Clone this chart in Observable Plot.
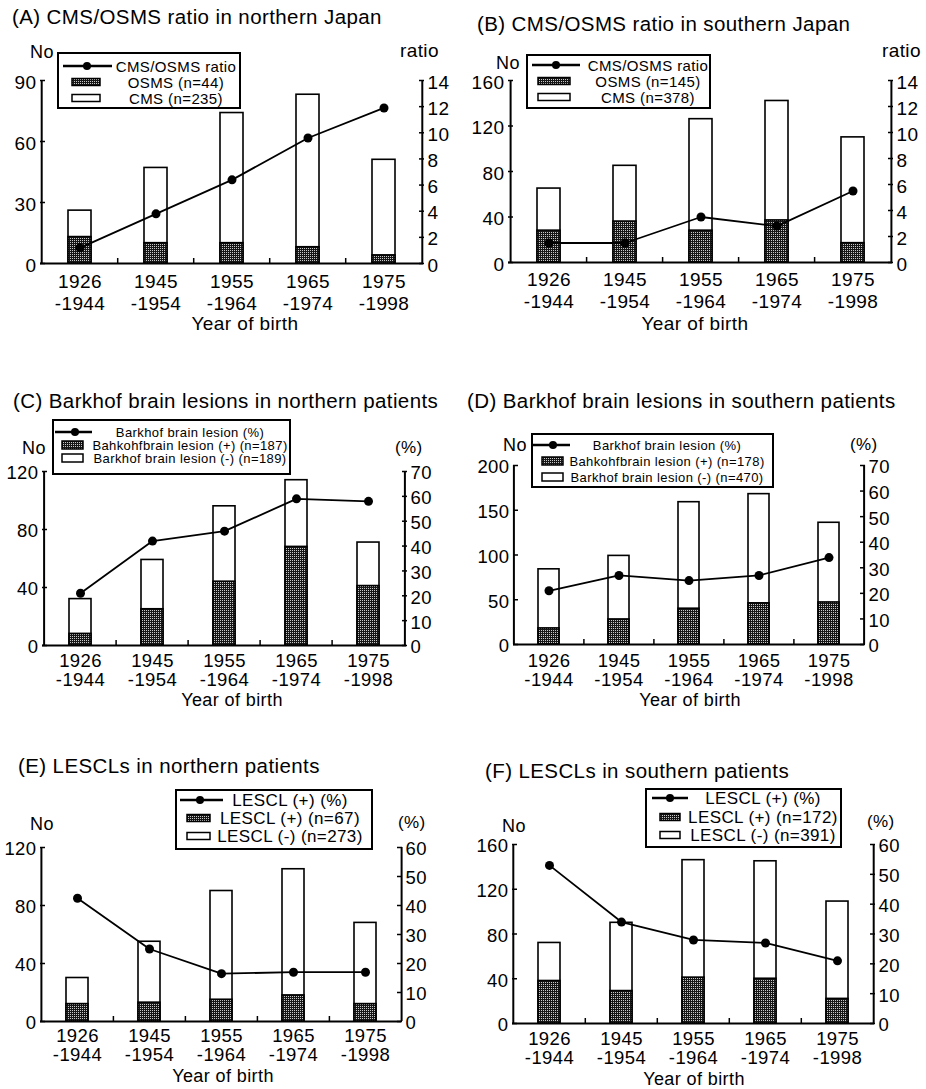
<!DOCTYPE html>
<html><head><meta charset="utf-8">
<script src="https://cdn.jsdelivr.net/npm/d3@7"></script>
<script src="https://cdn.jsdelivr.net/npm/@observablehq/plot@0.6"></script>
<style>
body{margin:0;background:#fff;}
#root{position:relative;width:926px;height:1089px;overflow:hidden;font-family:"Liberation Sans",Arial,sans-serif;color:#000;background:#fff;}
.t{position:absolute;white-space:nowrap;letter-spacing:0.4px;}
</style></head><body>
<svg width="0" height="0" style="position:absolute">
  <defs>
    <pattern id="dither" width="2" height="2" patternUnits="userSpaceOnUse">
      <rect width="2" height="2" fill="#161616"/>
      <rect x="0" y="0" width="1" height="1" fill="#c8c8c8"/>
    </pattern>
  </defs>
</svg>
<div id="root"></div>
<script>
const FONT = '"Liberation Sans", Arial, sans-serif';

// ---------- data ----------
const cohorts = ["1926\n-1944", "1945\n-1954", "1955\n-1964", "1965\n-1974", "1975\n-1998"];

// (A) northern Japan
const osmsNorth = [13, 10, 10, 8, 4];
const cmsNorth = [13, 37, 64, 75, 47];
const ratioNorth = [1.2, 3.8, 6.4, 9.6, 11.9];
// (B) southern Japan
const osmsSouth = [28, 36, 28, 37, 17];
const cmsSouth = [37, 49, 98, 105, 93];
const ratioSouth = [1.5, 1.5, 3.5, 2.8, 5.5];
// (C) Barkhof northern
const barkPosNorth = [8, 25, 44, 68, 41];
const barkNegNorth = [24, 34, 52, 46, 30];
const barkPctNorth = [21, 42, 46, 59, 58];
// (D) Barkhof southern
const barkPosSouth = [18, 28, 40, 46, 47];
const barkNegSouth = [66, 71, 119, 122, 89];
const barkPctSouth = [21, 27, 25, 27, 34];
// (E) LESCL northern
const lesclPosNorth = [12, 13, 15, 18, 12];
const lesclNegNorth = [18, 42, 75, 87, 56];
const lesclPctNorth = [42.5, 25, 16.5, 17, 17];
// (F) LESCL southern
const lesclPosSouth = [38, 29, 41, 40, 22];
const lesclNegSouth = [34, 61, 105, 105, 87];
const lesclPctSouth = [53, 34, 28, 27, 21];

const root = document.getElementById("root");

function text(x, baseline, str, size, anchor = "start") {
  const d = document.createElement("div");
  d.className = "t";
  d.textContent = str;
  d.style.fontSize = size + "px";
  d.style.lineHeight = size + "px";
  d.style.left = x + "px";
  d.style.top = (baseline - 0.8465 * size) + "px";
  if (anchor === "middle") d.style.transform = "translateX(-50%)";
  if (anchor === "end") d.style.transform = "translateX(-100%)";
  root.appendChild(d);
}

function panel(cfg) {
  const rows = cohorts.map((c, i) => ({cat: c, pos: cfg.pos[i], total: cfg.pos[i] + cfg.neg[i], line: cfg.line[i]}));
  const k = cfg.yMax / cfg.rMax;
  const innerW = cfg.W - cfg.mL - cfg.mR;
  const innerH = cfg.H - cfg.mT - cfg.mB;
  const step = innerW / cohorts.length;
  const tickUnits = 5 * cfg.yMax / innerH;
  const rTickVals = cfg.rTicks.map(t => t * k);
  const chart = Plot.plot({
    width: cfg.W, height: cfg.H,
    marginLeft: cfg.mL, marginRight: cfg.mR, marginTop: cfg.mT, marginBottom: cfg.mB,
    style: {fontFamily: FONT, fontSize: cfg.tickFont + "px", background: "transparent", color: "#000", letterSpacing: "0.4px", overflow: "visible"},
    x: {type: "band", domain: cohorts, paddingInner: 0.7, paddingOuter: 0.35, axis: null},
    y: {domain: [0, cfg.yMax], axis: null},
    marks: [
      Plot.barY(rows, {x: "cat", y: "total", fill: "#fff", stroke: "#000", strokeWidth: 1.6}),
      Plot.barY(rows, {x: "cat", y: "pos", fill: "url(#dither)", stroke: "#000", strokeWidth: 1.6}),
      Plot.ruleY([0], {stroke: "#000", strokeWidth: 2}),
      Plot.ruleX([cohorts[0]], {dx: -step / 2, y1: 0, y2: cfg.yMax, stroke: "#000", strokeWidth: 2}),
      Plot.ruleX([cohorts[cohorts.length - 1]], {dx: step / 2, y1: 0, y2: cfg.yMax, stroke: "#000", strokeWidth: 2}),
      Plot.ruleX(cohorts.slice(1), {dx: -step / 2, y1: 0, y2: tickUnits, stroke: "#000", strokeWidth: 1.5}),
      Plot.axisX({anchor: "bottom", tickSize: 0, tickPadding: cfg.xPad, lineHeight: cfg.lh, label: null}),
      Plot.axisY(cfg.yTicks, {anchor: "left", tickSize: 0, tickPadding: 4, dy: 2, label: null}),
      Plot.axisY(cfg.yTicks, {anchor: "left", tickSize: 5, dx: 5, fill: "none", strokeWidth: 1.5, label: null}),
      Plot.axisY(rTickVals, {anchor: "right", tickSize: 0, tickPadding: 4, dy: 2, tickFormat: d => String(Math.round(d / k)), label: null}),
      Plot.axisY(rTickVals, {anchor: "right", tickSize: 5, dx: -5, fill: "none", strokeWidth: 1.5, label: null}),
      Plot.line(rows, {x: "cat", y: d => d.line * k, stroke: "#000", strokeWidth: 1.8}),
      Plot.dot(rows, {x: "cat", y: d => d.line * k, r: 4.5, fill: "#000", stroke: "none"})
    ]
  });
  chart.style.position = "absolute";
  chart.style.left = cfg.left + "px";
  chart.style.top = cfg.top + "px";
  root.appendChild(chart);
}

function legend(cfg) {
  const NS = "http://www.w3.org/2000/svg";
  const svg = document.createElementNS(NS, "svg");
  svg.setAttribute("width", cfg.w + 4);
  svg.setAttribute("height", cfg.h + 4);
  svg.style.position = "absolute";
  svg.style.left = (cfg.x - 2) + "px";
  svg.style.top = (cfg.y - 2) + "px";
  const ox = cfg.x - 2, oy = cfg.y - 2;
  const el = (tag, attrs) => { const e = document.createElementNS(NS, tag); for (const a in attrs) e.setAttribute(a, attrs[a]); svg.appendChild(e); return e; };
  el("rect", {x: 2, y: 2, width: cfg.w, height: cfg.h, fill: "#fff", stroke: "#000", "stroke-width": 2});
  const r0 = cfg.rows[0] - oy;
  el("line", {x1: cfg.line[0] - ox, x2: cfg.line[1] - ox, y1: r0, y2: r0, stroke: "#000", "stroke-width": 2.6});
  el("circle", {cx: cfg.dot - ox, cy: r0, r: 4, fill: "#000"});
  el("rect", {x: cfg.rect[0] - ox, y: cfg.rows[1] - oy - cfg.rectH / 2, width: cfg.rect[1] - cfg.rect[0], height: cfg.rectH, fill: "url(#dither)", stroke: "#000", "stroke-width": 1.5});
  el("rect", {x: cfg.rect[0] - ox, y: cfg.rows[2] - oy - cfg.rectH / 2, width: cfg.rect[1] - cfg.rect[0], height: cfg.rectH, fill: "#fff", stroke: "#000", "stroke-width": 1.5});
  cfg.labels.forEach((lab, i) => {
    const t = el("text", {x: cfg.textX - ox, y: cfg.rows[i] - oy, "text-anchor": "middle", "dominant-baseline": "central",
      "font-family": FONT, "font-size": cfg.fs, "letter-spacing": "0.4px", fill: "#000"});
    t.textContent = lab;
  });
  root.appendChild(svg);
}

const r14 = [0, 2, 4, 6, 8, 10, 12, 14];
const r70 = [0, 10, 20, 30, 40, 50, 60, 70];
const r60 = [0, 10, 20, 30, 40, 50, 60];

// ---------- panels ----------
panel({left: 0, top: 40, W: 460, H: 300, mL: 40, mR: 37, mT: 40, mB: 77, yMax: 90, yTicks: [0, 30, 60, 90], rMax: 14, rTicks: r14,
  pos: osmsNorth, neg: cmsNorth, line: ratioNorth, tickFont: 19, xPad: 9, lh: 1.15});
panel({left: 463, top: 40, W: 463, H: 300, mL: 45, mR: 34, mT: 40, mB: 78, yMax: 160, yTicks: [0, 40, 80, 120, 160], rMax: 14, rTicks: r14,
  pos: osmsSouth, neg: cmsSouth, line: ratioSouth, tickFont: 19, xPad: 8, lh: 1.15});
panel({left: 0, top: 440, W: 460, H: 270, mL: 42, mR: 54, mT: 31, mB: 65, yMax: 120, yTicks: [0, 40, 80, 120], rMax: 70, rTicks: r70,
  pos: barkPosNorth, neg: barkNegNorth, line: barkPctNorth, tickFont: 18.5, xPad: 8, lh: 1.04});
panel({left: 463, top: 440, W: 463, H: 270, mL: 50, mR: 62, mT: 25, mB: 66, yMax: 200, yTicks: [0, 50, 100, 150, 200], rMax: 70, rTicks: r70,
  pos: barkPosSouth, neg: barkNegSouth, line: barkPctSouth, tickFont: 18.5, xPad: 9, lh: 1.04});
panel({left: 0, top: 820, W: 460, H: 269, mL: 40, mR: 59, mT: 27, mB: 68, yMax: 120, yTicks: [0, 40, 80, 120], rMax: 60, rTicks: r60,
  pos: lesclPosNorth, neg: lesclNegNorth, line: lesclPctNorth, tickFont: 18.5, xPad: 7, lh: 1.04});
panel({left: 463, top: 820, W: 463, H: 269, mL: 49, mR: 52, mT: 24, mB: 66, yMax: 160, yTicks: [0, 40, 80, 120, 160], rMax: 60, rTicks: r60,
  pos: lesclPosSouth, neg: lesclNegSouth, line: lesclPctSouth, tickFont: 18.5, xPad: 8, lh: 1.04});

// ---------- titles & axis labels ----------
text(12, 24, "(A) CMS/OSMS ratio in northern Japan", 20.5);
text(477, 31, "(B) CMS/OSMS ratio in southern Japan", 20.5);
text(13, 408, "(C) Barkhof brain lesions in northern patients", 20.5);
text(467, 408, "(D) Barkhof brain lesions in southern patients", 20.5);
text(18, 773, "(E) LESCLs in northern patients", 20.5);
text(485, 778, "(F) LESCLs in southern patients", 20.5);

text(30, 58, "No", 18); text(400, 57, "ratio", 19);
text(496, 69, "No", 18); text(882, 57, "ratio", 19);
text(22, 454, "No", 18); text(395, 453, "(%)", 17);
text(503, 451, "No", 18); text(850, 450, "(%)", 17);
text(30, 830, "No", 18); text(398, 828, "(%)", 17);
text(502, 832, "No", 18); text(867, 827, "(%)", 17);

text(245, 330, "Year of birth", 19, "middle");
text(695, 330, "Year of birth", 19, "middle");
text(232, 706, "Year of birth", 18, "middle");
text(690, 706, "Year of birth", 18, "middle");
text(223, 1082, "Year of birth", 18, "middle");
text(694, 1085, "Year of birth", 18, "middle");

// ---------- legends ----------
legend({x: 58, y: 53, w: 182, h: 55, fs: 15, rows: [66, 82, 98], line: [63, 112], dot: 87, rect: [72, 100], rectH: 7, textX: 176,
  labels: ["CMS/OSMS ratio", "OSMS (n=44)", "CMS (n=235)"]});
legend({x: 527, y: 55, w: 183, h: 53, fs: 15, rows: [65, 81, 97], line: [532, 580], dot: 556, rect: [538, 570], rectH: 7, textX: 648,
  labels: ["CMS/OSMS ratio", "OSMS (n=145)", "CMS (n=378)"]});
legend({x: 53, y: 420, w: 237, h: 54, fs: 13, rows: [432, 445, 458], line: [55, 92], dot: 75, rect: [62, 83], rectH: 8, textX: 190,
  labels: ["Barkhof brain lesion (%)", "Bahkohfbrain lesion (+) (n=187)", "Barkhof brain lesion (-) (n=189)"]});
legend({x: 532, y: 434, w: 241, h: 53, fs: 13, rows: [445, 461, 477], line: [532, 570], dot: 553, rect: [542, 563], rectH: 8, textX: 667,
  labels: ["Barkhof brain lesion (%)", "Bahkohfbrain lesion (+) (n=178)", "Barkhof brain lesion (-) (n=470)"]});
legend({x: 176, y: 790, w: 196, h: 59, fs: 17, rows: [800, 818, 836], line: [180, 223], dot: 200, rect: [187, 210], rectH: 7, textX: 290,
  labels: ["LESCL (+) (%)", "LESCL (+) (n=67)", "LESCL (-) (n=273)"]});
legend({x: 646, y: 789, w: 195, h: 58, fs: 17, rows: [798, 817, 835], line: [652, 688], dot: 670, rect: [660, 680], rectH: 7, textX: 763,
  labels: ["LESCL (+) (%)", "LESCL (+) (n=172)", "LESCL (-) (n=391)"]});
</script>
</body></html>
